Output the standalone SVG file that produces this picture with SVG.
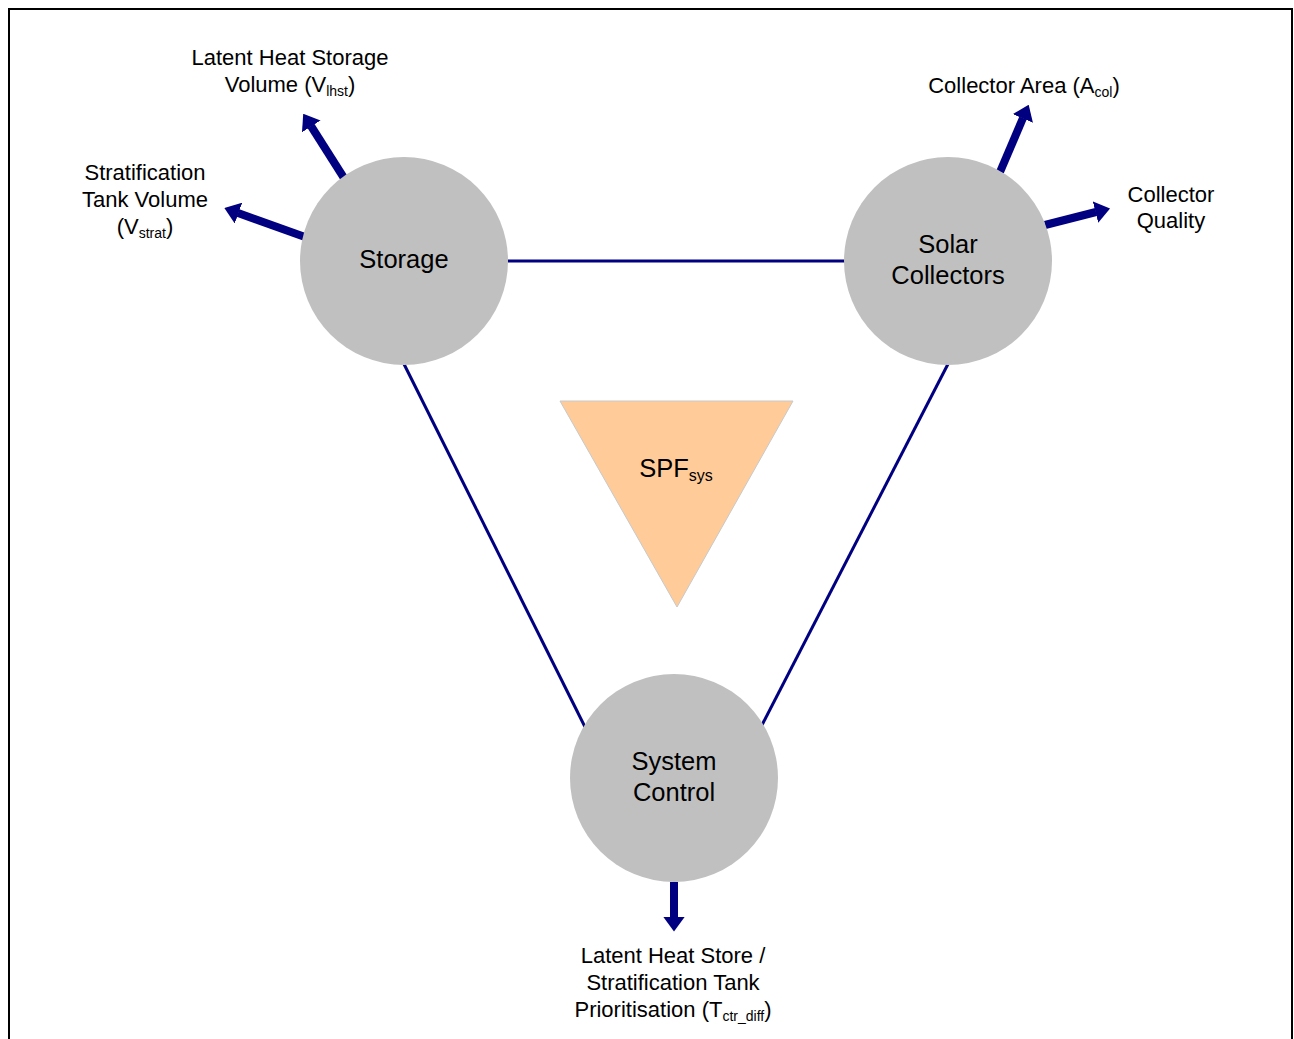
<svg xmlns="http://www.w3.org/2000/svg" width="1294" height="1039" viewBox="0 0 1294 1039">
<style>
text{font-family:"Liberation Sans",Arial,sans-serif;font-size:22px;fill:#000;text-anchor:middle}
.big{font-size:25.5px}
.sub{font-size:14px}
.bsub{font-size:16px}
.node{fill:#c0c0c0}
.link{stroke:#000080;stroke-width:3;fill:none}
.arr{stroke:#000080;stroke-width:8;fill:none;marker-end:url(#ah)}
</style>
<defs>
<marker id="ah" markerUnits="userSpaceOnUse" viewBox="0 -11 15 22" refX="0.5" refY="0" markerWidth="15" markerHeight="22" orient="auto">
<path d="M0,-11 L15,0 L0,11 z" fill="#000080"/>
</marker>
</defs>
<rect width="1294" height="1039" fill="#fff"/>
<path d="M9,1039 V9 H1292 V1039" fill="none" stroke="#000" stroke-width="2"/>
<g id="connectors">
<line class="link" x1="508" y1="261" x2="845" y2="261"/>
<line class="link" x1="404" y1="364" x2="585" y2="727"/>
<line class="link" x1="948" y1="364" x2="762" y2="725"/>
<line class="arr" x1="344" y1="178" x2="311" y2="126"/>
<line class="arr" x1="305" y1="237" x2="238" y2="213"/>
<line class="arr" x1="1000" y1="172" x2="1023" y2="118"/>
<line class="arr" x1="1045" y1="225" x2="1096" y2="212"/>
<line class="arr" x1="674" y1="882" x2="674" y2="917"/>
</g>
<g id="spf">
<polygon points="560,401 793,401 677,607" fill="#ffcc99" stroke="#c8c8c8" stroke-width="1"/>
<text class="big" x="676" y="477">SPF<tspan class="bsub" dy="4">sys</tspan></text>
</g>
<g id="storage">
<circle class="node" cx="404" cy="261" r="104"/>
<text class="big" x="404" y="268">Storage</text>
</g>
<g id="solar">
<circle class="node" cx="948" cy="261" r="104"/>
<text class="big" x="948" y="253">Solar</text>
<text class="big" x="948" y="284">Collectors</text>
</g>
<g id="control">
<circle class="node" cx="674" cy="778" r="104"/>
<text class="big" x="674" y="770">System</text>
<text class="big" x="674" y="801">Control</text>
</g>
<g id="label-lhst">
<text x="290" y="65">Latent Heat Storage</text>
<text x="290" y="92">Volume (V<tspan class="sub" dy="4">lhst</tspan><tspan dy="-4">)</tspan></text>
</g>
<g id="label-strat">
<text x="145" y="180">Stratification</text>
<text x="145" y="207">Tank Volume</text>
<text x="145" y="234">(V<tspan class="sub" dy="4">strat</tspan><tspan dy="-4">)</tspan></text>
</g>
<g id="label-acol">
<text x="1024" y="93">Collector Area (A<tspan class="sub" dy="4">col</tspan><tspan dy="-4">)</tspan></text>
</g>
<g id="label-quality">
<text x="1171" y="202">Collector</text>
<text x="1171" y="228">Quality</text>
</g>
<g id="label-prio">
<text x="673" y="963">Latent Heat Store /</text>
<text x="673" y="990">Stratification Tank</text>
<text x="673" y="1017">Prioritisation (T<tspan class="sub" dy="4">ctr_diff</tspan><tspan dy="-4">)</tspan></text>
</g>
</svg>
